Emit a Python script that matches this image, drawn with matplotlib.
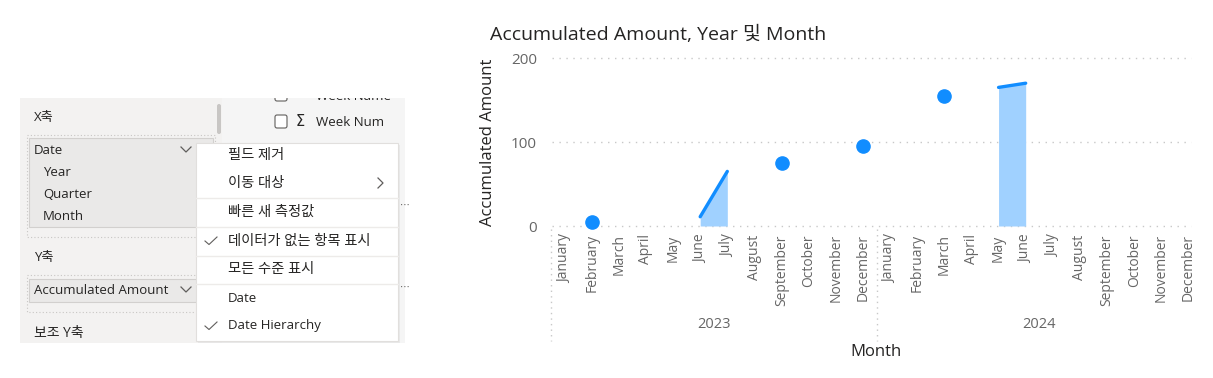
import numpy as np
import matplotlib.pyplot as plt
from matplotlib.patches import Rectangle, FancyBboxPatch
import matplotlib.transforms as mtransforms

KR = ['Open Sans', 'Noto Sans CJK KR', 'DejaVu Sans']
plt.rcParams['font.family'] = KR

# chart data
months = ['January', 'February', 'March', 'April', 'May', 'June', 'July',
          'August', 'September', 'October', 'November', 'December']
years = ['2023', '2024']
amount_2023 = [None, 5, None, None, None, 11, 65, None, 75, None, None, 95]
amount_2024 = [None, None, 155, None, 165, 170, None, None, None, None, None, None]

# panel texts
menu_items = ['필드 제거', '이동 대상', '빠른 새 측정값', '데이터가 없는 항목 표시',
              '모든 수준 표시', 'Date', 'Date Hierarchy']
menu_checked = [False, False, False, True, False, False, True]
x_fields = ['Year', 'Quarter', 'Month']

W, H = 1213, 378
fig = plt.figure(figsize=(W / 100, H / 100), dpi=100)

# ---------- left UI panel (pixel coords) ----------
ui = fig.add_axes([0, 0, 1, 1], zorder=-1)
ui.set_xlim(0, W)
ui.set_ylim(H, 0)
ui.axis('off')

txt = '#252423'
grey = '#605E5C'
ui.add_patch(Rectangle((20, 98), 202, 245, facecolor='#F3F2F1', edgecolor='none'))
ui.add_patch(Rectangle((222, 98), 183, 245, facecolor='#F5F5F5', edgecolor='none'))
ui.add_patch(FancyBboxPatch((217, 104), 4, 30, boxstyle='round,pad=0,rounding_size=2',
                            facecolor='#C8C6C4', edgecolor='none'))


def kr_size(s):
    # hangul strings look a bit bigger in the original
    return 10.3 if any('\uac00' <= c <= '\ud7a3' for c in s) else 9.5


ui.text(34, 118, 'X축', fontsize=9.5, color=txt, va='center')
ui.add_patch(Rectangle((27, 135), 188, 102, facecolor='none', edgecolor='#C8C6C4',
                       linestyle=(0, (1, 2)), lw=0.8))
ui.add_patch(Rectangle((29, 138), 184, 89, facecolor='#EAE9E8', edgecolor='#D2D0CE', lw=0.8))
ui.text(34, 150, 'Date', fontsize=9.5, color=txt, va='center')
for i, f in enumerate(x_fields):
    ui.text(43, 173 + i * 21.5, f, fontsize=9.5, color=txt, va='center')


def chevron(x, y):
    ui.plot([x - 5, x, x + 5], [y - 3, y + 2, y - 3], color=grey, lw=0.9)


chevron(186, 150)

ui.text(34, 258, 'Y축', fontsize=9.5, color=txt, va='center')
ui.add_patch(Rectangle((27, 275), 188, 37, facecolor='none', edgecolor='#C8C6C4',
                       linestyle=(0, (1, 2)), lw=0.8))
ui.add_patch(Rectangle((29, 279), 184, 23, facecolor='#EAE9E8', edgecolor='#D2D0CE', lw=0.8))
ui.text(34, 290, 'Accumulated Amount', fontsize=9.5, color=txt, va='center')
chevron(186, 290)
ui.text(34, 333, '보조 Y축', fontsize=10, color=txt, va='center')

# field list (top row is cut off by the pane edge, hidden with a white strip)
ui.add_patch(FancyBboxPatch((275, 88), 12, 13, boxstyle='round,pad=0,rounding_size=2',
                            facecolor='white', edgecolor=grey, lw=0.8, zorder=1))
ui.text(316, 96, 'Week Name', fontsize=9.5, color=txt, va='center', zorder=1)
ui.add_patch(Rectangle((222, 60), 190, 38, facecolor='white', edgecolor='none', zorder=2))
ui.add_patch(FancyBboxPatch((275, 115), 12, 13, boxstyle='round,pad=0,rounding_size=2',
                            facecolor='white', edgecolor=grey, lw=0.8))
ui.text(296, 122, 'Σ', fontsize=10.5, color=txt, va='center', family='DejaVu Sans')
ui.text(316, 122, 'Week Num', fontsize=9.5, color=txt, va='center')
ui.text(400, 205, '⋯', fontsize=7, color=grey, va='center', family='DejaVu Sans')
ui.text(400, 287, '⋯', fontsize=7, color=grey, va='center', family='DejaVu Sans')

# context menu
ui.add_patch(Rectangle((198, 145), 202, 198, facecolor='#E1E1E1', edgecolor='none',
                       alpha=0.6, zorder=3))
ui.add_patch(Rectangle((196, 143), 202, 198, facecolor='white', edgecolor='#E1DFDD',
                       lw=0.8, zorder=3))
item_y = [156, 183, 212, 241, 270, 299, 326]
for y, label, chk in zip(item_y, menu_items, menu_checked):
    ui.text(228, y, label, fontsize=kr_size(label), color=txt, va='center', zorder=4)
    if chk:
        ui.plot([205, 209, 217], [y, y + 3.5, y - 4], color=grey, lw=0.8, zorder=4)
for y in [198, 227, 256, 284]:
    ui.plot([196, 398], [y, y], color='#EDEBE9', lw=1, zorder=4)
ui.plot([378, 383, 378], [178, 183, 188], color=grey, lw=0.9, zorder=4)

# ---------- chart ----------
x0, x1 = 551, 1202
y0, y1 = 226, 58
ax = fig.add_axes([x0 / W, 1 - y0 / H, (x1 - x0) / W, (y0 - y1) / H])
ax.patch.set_alpha(0)

vals = np.array([np.nan if v is None else v for v in amount_2023 + amount_2024], dtype=float)
xs = np.arange(len(vals))
labels = months * len(years)

blue = '#118DFF'
for i in range(len(vals) - 1):
    if not np.isnan(vals[i]) and not np.isnan(vals[i + 1]):
        ax.fill_between(xs[i:i + 2], 0, vals[i:i + 2], color='#A0D1FF', lw=0, zorder=2)
ax.plot(xs, vals, color=blue, lw=2.4, solid_capstyle='round', zorder=3)
iso = [i for i in range(len(vals)) if not np.isnan(vals[i])
       and (i == 0 or np.isnan(vals[i - 1])) and (i == len(vals) - 1 or np.isnan(vals[i + 1]))]
ax.plot(xs[iso], vals[iso], 'o', color=blue, ms=9.5, zorder=4, clip_on=False)

ax.set_xlim(-0.5, len(vals) - 0.5)
ax.set_ylim(0, 200)
for s in ax.spines.values():
    s.set_visible(False)
ax.set_yticks([0, 100, 200])
ax.tick_params(axis='y', length=0, pad=10, labelsize=11, labelcolor='#666666')
for yv in [0, 100, 200]:
    ax.plot([-0.45, len(vals) - 0.9], [yv, yv], color='#C8C8C8', lw=1,
            linestyle=(0, (1, 4)), zorder=1, clip_on=False)

ax.set_xticks(xs)
ax.set_xticklabels(labels, rotation=90, fontsize=10, color='#666666')
ax.tick_params(axis='x', length=0, pad=6)

trans = mtransforms.blended_transform_factory(ax.transData, fig.transFigure)
for k, yr in enumerate(years):
    ax.text(k * 12 + 5.5, 1 - 325 / H, yr, transform=trans, ha='center', va='center',
            fontsize=10.5, color='#666666')
    ax.plot([k * 12 - 0.5, k * 12 - 0.5], [1 - 229 / H, 1 - 341 / H], transform=trans,
            color='#C8C8C8', lw=1, linestyle=(0, (1, 3)), clip_on=False)

ax.set_ylabel('Accumulated Amount', fontsize=12, color=txt, labelpad=11)
fig.text(876 / W, 1 - 352 / H, 'Month', fontsize=12, color=txt, ha='center', va='center')
fig.text(490 / W, 1 - 35 / H, 'Accumulated Amount, Year 및 Month', fontsize=14,
         color=txt, ha='left', va='center')

fig.savefig('out.png', dpi=100, facecolor='white')
